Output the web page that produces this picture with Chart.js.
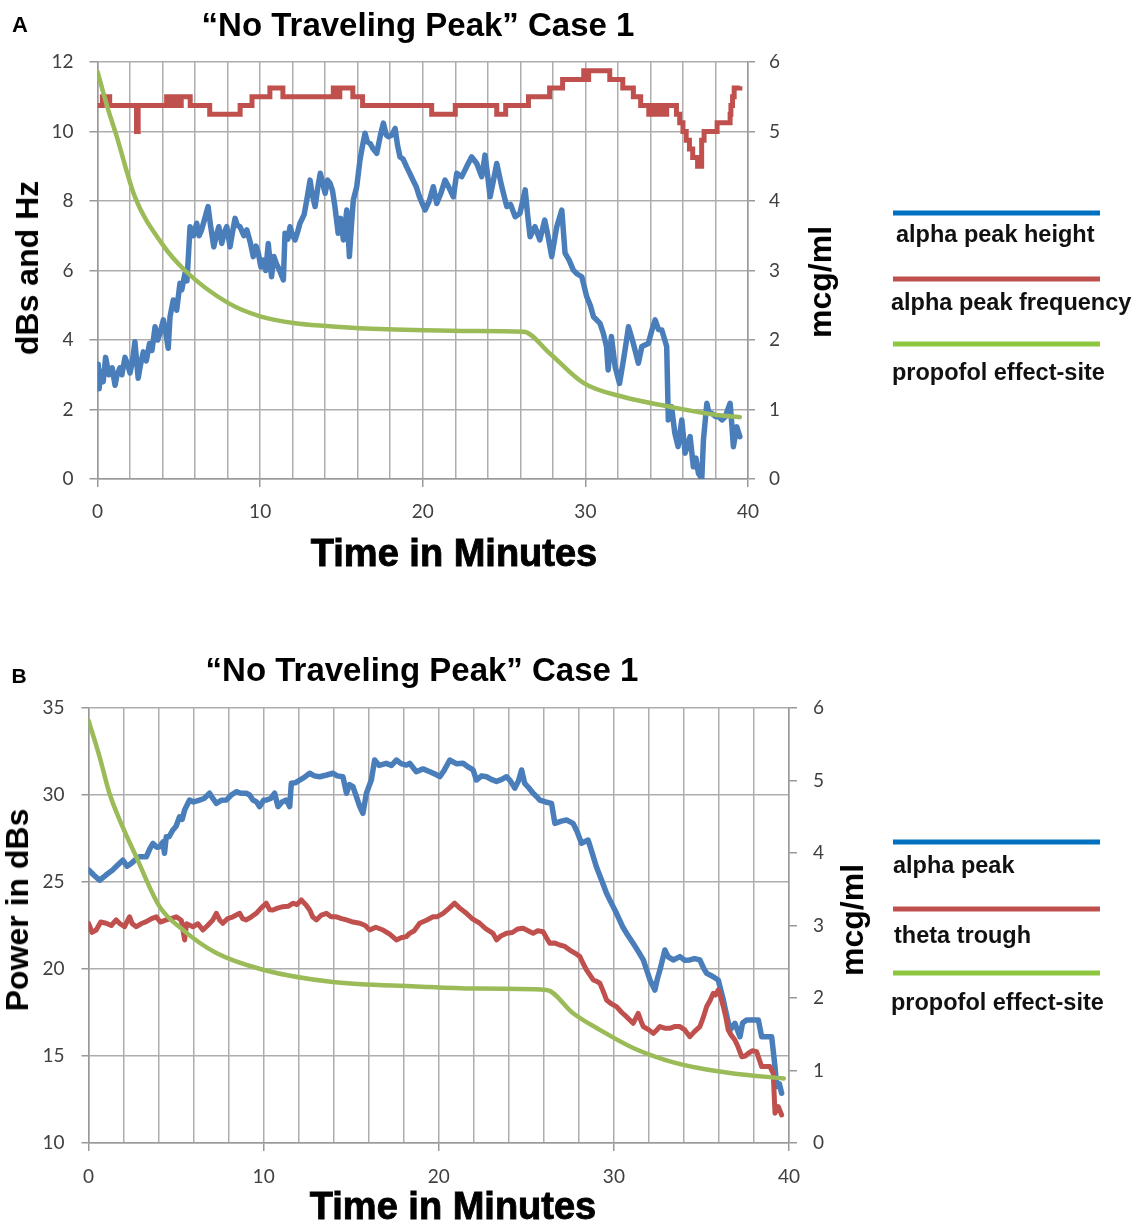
<!DOCTYPE html>
<html><head><meta charset="utf-8">
<script src="https://cdn.jsdelivr.net/npm/chart.js@4.4.1/dist/chart.umd.min.js"></script>
<style>
html,body{margin:0;padding:0;background:#fff;}
#page{position:relative;width:1137px;height:1221px;overflow:hidden;background:#fff;}
canvas{position:absolute;left:0;}
.t{position:absolute;font-family:"Liberation Sans",Arial,sans-serif;font-weight:bold;color:#000;white-space:nowrap;line-height:1;transform:translate(-50%,-50%);}
.rot{transform:translate(-50%,-50%) rotate(-90deg);}
.heavy{-webkit-text-stroke:0.9px #000;}
.leg{position:absolute;font-family:"Liberation Sans",Arial,sans-serif;font-weight:bold;font-size:23.5px;line-height:1;white-space:nowrap;transform:translateY(-50%);color:#111;}
.lline{position:absolute;left:893px;width:207px;height:5px;transform:translateY(-50%);}
</style></head>
<body><div id="page">
<canvas id="cA" width="1137" height="600" style="top:0"></canvas>
<canvas id="cB" width="1137" height="621" style="top:600px"></canvas>

<div class="t" style="left:20px;top:25px;font-size:22px;">A</div>
<div class="t" style="left:418px;top:24px;font-size:33px;">“No Traveling Peak” Case 1</div>
<div class="t rot" style="left:27px;top:268px;font-size:32px;">dBs and Hz</div>
<div class="t rot" style="left:820px;top:282px;font-size:32px;">mcg/ml</div>
<div class="t heavy" style="left:454px;top:553px;font-size:38px;">Time in Minutes</div>
<div class="lline" style="top:213px;background:#0070C0;"></div>
<div class="leg" style="left:896px;top:235px;">alpha peak height</div>
<div class="lline" style="top:279px;background:#C0504D;"></div>
<div class="leg" style="left:891px;top:303px;">alpha peak frequency</div>
<div class="lline" style="top:344px;background:#8DC63F;"></div>
<div class="leg" style="left:892px;top:373px;">propofol effect-site</div>

<div class="t" style="left:19px;top:675px;font-size:21px;">B</div>
<div class="t" style="left:422px;top:669px;font-size:33px;">“No Traveling Peak” Case 1</div>
<div class="t rot" style="left:17px;top:910px;font-size:32px;">Power in dBs</div>
<div class="t rot" style="left:852px;top:920px;font-size:32px;">mcg/ml</div>
<div class="t heavy" style="left:453px;top:1206px;font-size:38px;">Time in Minutes</div>
<div class="lline" style="top:842px;background:#0070C0;"></div>
<div class="leg" style="left:893px;top:866px;">alpha peak</div>
<div class="lline" style="top:909px;background:#C0504D;"></div>
<div class="leg" style="left:894px;top:936px;">theta trough</div>
<div class="lline" style="top:973px;background:#8DC63F;"></div>
<div class="leg" style="left:891px;top:1003px;">propofol effect-site</div>
</div>
<script>
// ---------- tick labels ----------
const X_LABELS = [0, 10, 20, 30, 40];
const A_LEFT_TICKS = [0, 2, 4, 6, 8, 10, 12];
const A_RIGHT_TICKS = [0, 1, 2, 3, 4, 5, 6];
const B_LEFT_TICKS = [10, 15, 20, 25, 30, 35];
const B_RIGHT_TICKS = [0, 1, 2, 3, 4, 5, 6];

// ---------- Panel A: alpha peak height (dB) ----------
const A_HEIGHT_T = [0.0,0.05,0.1,0.2,0.35,0.5,0.7,0.9,1.08,1.2,1.38,1.5,1.69,1.85,2.0,2.15,2.3,2.5,2.65,2.82,3.0,3.2,3.35,3.54,3.7,3.84,4.05,4.2,4.35,4.46,4.66,4.87,5.07,5.18,5.38,5.5,5.6,5.69,5.9,6.1,6.25,6.4,6.6,6.8,6.95,7.15,7.3,7.46,7.64,7.8,7.95,8.15,8.3,8.46,8.6,8.76,9.0,9.18,9.4,9.58,9.75,9.89,10.05,10.2,10.35,10.5,10.6,10.7,10.85,11.0,11.2,11.43,11.53,11.7,11.84,12.0,12.15,12.3,12.45,12.7,12.87,13.07,13.2,13.38,13.55,13.7,13.85,14.0,14.15,14.3,14.45,14.6,14.8,14.95,15.12,15.33,15.49,15.6,15.73,15.94,16.14,16.3,16.45,16.6,16.76,16.95,17.17,17.4,17.58,17.75,17.88,18.1,18.3,18.45,18.6,18.8,19.0,19.2,19.4,19.6,19.8,20.14,20.4,20.65,20.86,21.1,21.37,21.6,21.88,22.09,22.4,22.7,23.01,23.32,23.63,23.83,24.0,24.14,24.35,24.55,24.86,25.17,25.4,25.68,25.98,26.3,26.45,26.6,26.9,27.2,27.5,27.7,27.93,28.24,28.55,28.75,29.0,29.26,29.5,29.78,30.08,30.3,30.5,30.9,31.1,31.3,31.4,31.6,31.83,32.1,32.34,32.5,32.65,32.95,33.26,33.47,33.87,34.1,34.29,34.5,34.7,35.0,35.1,35.3,35.5,35.7,35.93,36.13,36.44,36.64,36.8,36.95,37.16,37.26,37.47,37.6,37.77,38.0,38.18,38.4,38.6,38.9,39.0,39.1,39.31,39.5];
const A_HEIGHT_V = [2.7,3.3,2.6,3.1,2.8,3.5,3.0,3.2,2.7,3.0,3.2,3.0,3.5,3.3,3.05,3.4,3.95,2.9,3.3,3.66,3.4,3.9,3.7,4.38,4.0,4.19,4.58,4.2,3.76,4.67,5.15,4.86,5.63,5.44,5.92,5.7,6.5,7.26,7.0,7.36,7.0,7.17,7.5,7.84,7.3,6.68,7.0,7.26,6.78,7.1,7.26,6.68,7.1,7.5,7.3,7.26,7.0,7.17,6.8,6.4,6.7,6.5,6.1,6.3,6.0,6.78,6.3,5.82,6.4,6.2,6.0,5.73,7.07,6.9,7.26,7.0,6.88,7.1,7.36,7.6,8.03,8.6,8.2,7.84,8.4,8.8,8.5,8.22,8.6,8.51,8.3,7.84,7.07,7.5,6.88,7.74,6.4,7.2,8.03,8.41,9.18,9.6,9.95,9.7,9.66,9.5,9.37,9.9,10.24,9.9,9.85,9.9,10.09,9.6,9.27,9.2,8.99,8.8,8.6,8.41,8.12,7.74,8.0,8.41,7.93,8.2,8.6,8.4,8.12,8.8,8.7,8.99,9.27,9.08,8.7,9.32,8.7,8.12,8.6,9.08,8.41,7.84,7.9,7.55,7.65,8.32,7.6,6.97,7.26,6.88,7.45,7.0,6.4,7.26,7.74,6.5,6.3,6.01,5.9,5.82,5.25,5.0,4.67,4.48,4.2,3.81,3.14,4.1,3.23,2.75,3.42,3.9,4.38,3.9,3.33,3.81,3.9,4.3,4.58,4.3,4.29,3.81,1.7,2.08,1.32,0.93,1.7,0.74,1.22,0.35,0.6,0.16,0.02,1.12,2.18,1.9,1.89,1.8,1.79,1.7,1.79,2.18,1.6,0.93,1.5,1.22];

// ---------- Panel A: alpha peak frequency (Hz), step levels ----------
const A_FREQ_T = [0,0.3,0.75,2.4,2.5,4.25,4.5,4.7,5.0,5.15,5.7,6.9,8.77,9.5,10.6,11.4,14.5,14.8,14.9,15.7,16.3,20.55,22.0,24.55,25.1,26.5,27.8,28.6,29.9,30.1,30.2,31.5,32.3,32.95,33.4,33.9,34.1,34.3,34.6,34.7,35.0,35.6,35.8,36.0,36.2,36.4,36.6,36.9,37.15,37.3,38.1,38.9,38.95,39.05,39.15,39.5];
const A_FREQ_V = [10.75,11.0,10.75,10.0,10.75,11.0,10.75,11.0,10.75,11.0,10.75,10.5,10.75,11.0,11.25,11.0,11.25,11.0,11.25,11.0,10.75,10.5,10.75,10.5,10.75,11.0,11.25,11.5,11.75,11.5,11.75,11.5,11.25,11.0,10.75,10.5,10.75,10.5,10.75,10.5,10.75,10.5,10.25,10.0,9.75,9.5,9.25,9.0,9.75,10.0,10.25,10.5,10.75,11.0,11.25,11.3];

// ---------- Panel A: propofol effect-site (mcg/ml) ----------
const A_PROP_T = [0,0.66,1.13,2.3,3.95,5.38,8.05,10.0,12.15,14.1,16.1,20.1,23.0,26.2,27.8,29.9,32.35,35.2,38.1,39.5];
const A_PROP_V = [5.86,5.31,4.97,4.06,3.39,3.0,2.53,2.34,2.24,2.2,2.17,2.14,2.13,2.12,1.81,1.38,1.18,1.04,0.92,0.89];

// ---------- Panel B: alpha peak power (dB) ----------
const B_ALPHA_T = [0,0.3,0.63,1.0,1.39,1.7,1.96,2.2,2.44,2.7,2.9,3.3,3.5,3.68,3.9,4.06,4.25,4.34,4.44,4.6,4.82,5.0,5.2,5.35,5.49,5.77,6.0,6.34,6.6,6.91,7.1,7.3,7.6,7.87,8.15,8.44,8.7,9.01,9.2,9.39,9.6,9.77,10.0,10.15,10.4,10.63,10.82,11.05,11.3,11.49,11.58,11.8,12.06,12.3,12.63,12.9,13.2,13.6,13.96,14.2,14.53,14.73,14.9,15.1,15.3,15.49,15.67,15.87,16.15,16.34,16.6,17.0,17.3,17.58,17.85,18.15,18.34,18.72,19.1,19.49,19.8,20.06,20.3,20.63,21.0,21.39,21.7,21.96,22.15,22.45,22.73,23.0,23.3,23.6,23.87,24.1,24.34,24.55,24.73,24.91,25.15,25.39,25.6,25.77,26.1,26.44,26.63,27.0,27.3,27.67,27.9,28.15,28.53,28.75,29.0,29.3,29.58,29.85,30.15,30.5,30.72,31.1,31.4,31.68,32.06,32.34,32.5,32.63,32.91,33.1,33.39,33.77,34.05,34.34,34.6,34.91,35.1,35.3,35.6,35.96,36.25,36.45,36.63,36.91,37.2,37.35,37.58,38.25,38.44,39.01,39.2,39.3,39.45,39.58];
const B_ALPHA_V = [25.7,25.4,25.1,25.4,25.7,26.0,26.26,25.9,26.07,26.3,26.45,26.45,26.9,27.22,27.0,27.03,27.3,26.65,27.6,27.6,27.99,28.2,28.75,28.6,29.14,29.71,29.6,29.71,29.8,30.1,29.8,29.52,29.7,29.71,30.0,30.19,30.1,30.1,30.0,29.71,29.6,29.33,29.7,29.71,29.8,30.1,29.33,29.6,29.71,29.33,30.67,30.7,30.86,31.0,31.25,31.1,31.05,31.15,31.25,31.1,31.05,30.1,30.6,30.48,29.9,29.33,28.95,30.1,30.86,32.01,31.7,31.82,31.7,32.01,31.8,31.72,31.82,31.34,31.5,31.34,31.2,31.05,31.4,32.01,31.8,31.82,31.6,31.44,30.86,31.1,31.05,30.9,30.78,30.9,31.05,30.8,30.39,30.8,31.44,30.67,30.4,30.1,29.9,29.71,29.6,29.52,28.37,28.5,28.56,28.37,27.9,27.23,27.41,26.7,25.88,25.1,24.35,23.8,23.2,22.43,22.06,21.48,21.0,20.52,19.37,18.79,19.5,19.94,21.09,20.7,20.52,20.71,20.5,20.52,20.6,20.52,20.1,19.75,19.6,19.37,18.22,17.3,16.49,16.88,16.11,16.9,17.07,17.07,16.11,16.11,14.39,13.24,13.4,12.86];

// ---------- Panel B: theta trough power (dB) ----------
const B_THETA_T = [0,0.2,0.44,0.7,1.01,1.3,1.58,1.8,2.06,2.34,2.5,2.73,3.0,3.3,3.6,3.87,4.1,4.44,4.7,5.01,5.3,5.49,5.6,5.96,6.25,6.53,6.8,7.1,7.3,7.5,7.67,7.95,8.25,8.63,8.8,9.01,9.3,9.58,9.85,10.15,10.35,10.53,10.8,11.1,11.4,11.67,11.9,12.15,12.4,12.63,12.8,13.01,13.3,13.58,13.85,14.15,14.45,14.73,15.1,15.49,15.8,16.06,16.4,16.82,17.2,17.58,17.85,18.15,18.34,18.6,18.91,19.3,19.67,19.9,20.25,20.6,20.91,21.2,21.58,21.9,22.34,22.7,23.1,23.3,23.55,23.87,24.2,24.5,24.82,25.1,25.39,25.65,25.96,26.15,26.34,26.6,26.91,27.2,27.48,27.8,28.06,28.25,28.44,28.6,28.82,29.0,29.2,29.4,29.58,29.85,30.15,30.45,30.72,31.1,31.39,31.55,31.68,32.0,32.25,32.45,32.63,32.9,33.2,33.5,33.77,34.05,34.34,34.6,34.91,35.1,35.3,35.5,35.67,35.8,35.96,36.1,36.25,36.4,36.53,36.7,36.91,37.1,37.3,37.5,37.67,37.9,38.15,38.3,38.44,38.91,39.1,39.2,39.39,39.58];
const B_THETA_V = [22.63,22.1,22.24,22.7,22.63,22.5,22.82,22.6,22.43,23.0,22.6,22.43,22.6,22.72,22.9,23.0,22.7,22.82,22.9,23.0,22.8,21.67,22.6,22.43,22.6,22.24,22.5,22.82,23.2,22.8,22.63,22.9,23.0,23.2,22.9,22.82,23.0,23.2,23.5,23.78,23.4,23.39,23.5,23.58,23.6,23.78,23.7,23.97,23.7,23.39,23.0,22.82,23.1,23.2,23.0,23.0,22.9,22.82,22.7,22.63,22.5,22.24,22.4,22.24,22.0,21.67,21.8,21.86,22.05,22.2,22.63,22.8,23.0,23.0,23.2,23.5,23.78,23.5,23.2,22.9,22.63,22.3,22.05,21.67,21.9,22.05,22.1,22.3,22.34,22.2,22.05,22.2,22.14,21.8,21.48,21.5,21.38,21.3,21.09,20.9,20.71,20.3,19.94,19.7,19.37,19.3,19.18,18.7,18.22,18.0,17.84,17.5,17.26,16.88,17.45,17.0,16.69,16.5,16.3,16.5,16.69,16.6,16.59,16.7,16.69,16.5,16.11,16.4,16.69,17.2,17.84,18.2,18.6,18.5,18.79,18.4,17.84,17.2,16.49,16.2,15.92,15.5,14.96,15.0,15.15,15.3,15.25,14.8,14.39,14.39,14.0,11.71,12.09,11.61];

// ---------- Panel B: propofol effect-site (mcg/ml) ----------
const B_PROP_T = [0,0.63,1.2,1.77,2.72,4.06,5.39,7.3,9.96,13.96,18.72,22.0,26.15,27.67,29.2,31.1,33.0,34.91,36.82,39.7];
const B_PROP_V = [5.83,5.33,4.82,4.46,3.95,3.26,2.94,2.62,2.39,2.22,2.16,2.13,2.11,1.79,1.56,1.31,1.14,1.03,0.96,0.89];

// ---------- styling ----------
const C_BLUE = '#4A7EBB', C_RED = '#C0504D', C_GREEN = '#9BBB59';
const GRID = '#adadad', AXIS = '#999999', TICKTXT = '#404040';
const TICKFONT = {family: 'Lato, "Open Sans", sans-serif', size: 19};

function zip(t, v) { return t.map((x, i) => ({x: x, y: v[i]})); }
function line(label, t, v, color, axis, width, extra) {
  return Object.assign({
    label: label, data: zip(t, v), yAxisID: axis, borderColor: color,
    backgroundColor: color, borderWidth: width, pointRadius: 0, fill: false,
    borderJoinStyle: 'round', borderCapStyle: 'round', tension: 0
  }, extra || {});
}

function build(id, g, datasets) {
  const lt = g.leftTicks, rt = g.rightTicks;
  return new Chart(document.getElementById(id), {
    type: 'line',
    data: {datasets: datasets},
    options: {
      responsive: false, animation: false, devicePixelRatio: 1,
      layout: {padding: {top: g.top, left: 0, right: 0, bottom: 0}},
      plugins: {legend: {display: false}, tooltip: {enabled: false}, title: {display: false}},
      scales: {
        x: {
          type: 'linear', min: X_LABELS[0], max: X_LABELS[X_LABELS.length - 1],
          afterFit: s => { s.height = g.xH; },
          ticks: {stepSize: 2, autoSkip: false, maxRotation: 0, padding: g.xPad, font: TICKFONT, color: TICKTXT,
                  callback: v => X_LABELS.includes(v) ? String(v) : ''},
          grid: {color: GRID, lineWidth: 1.5, tickLength: 8,
                 tickColor: c => (c.tick && X_LABELS.includes(c.tick.value)) ? AXIS : 'rgba(0,0,0,0)'},
          border: {color: AXIS, width: 1.5}
        },
        yL: {
          position: 'left', min: lt[0], max: lt[lt.length - 1],
          afterFit: s => { s.width = g.lW; },
          ticks: {stepSize: lt[1] - lt[0], padding: g.lPad, font: TICKFONT, color: TICKTXT},
          grid: {color: GRID, lineWidth: 1.5, tickLength: g.lTL, tickColor: AXIS},
          border: {color: AXIS, width: 1.5}
        },
        yR: {
          position: 'right', min: rt[0], max: rt[rt.length - 1],
          afterFit: s => { s.width = g.rW; },
          ticks: {stepSize: rt[1] - rt[0], padding: g.rPad, font: TICKFONT, color: TICKTXT},
          grid: {drawOnChartArea: false, color: AXIS, lineWidth: 1.5, tickLength: g.rTL, tickColor: AXIS},
          border: {color: AXIS, width: 1.5}
        }
      }
    }
  });
}

build('cA', {top: 62, xH: 121, lW: 97.5, rW: 389, xPad: 13, lPad: 16, lTL: 8, rPad: 14, rTL: 7,
             leftTicks: A_LEFT_TICKS, rightTicks: A_RIGHT_TICKS}, [
  line('propofol effect-site', A_PROP_T, A_PROP_V, C_GREEN, 'yR', 4.5, {cubicInterpolationMode: 'monotone'}),
  line('alpha peak frequency', A_FREQ_T, A_FREQ_V, C_RED, 'yL', 5, {stepped: true, borderJoinStyle: 'miter', borderCapStyle: 'butt'}),
  line('alpha peak height', A_HEIGHT_T, A_HEIGHT_V, C_BLUE, 'yL', 5.5)
]);

build('cB', {top: 108, xH: 78, lW: 88.5, rW: 348, xPad: 14, lPad: 17, lTL: 7, rPad: 16, rTL: 8,
             leftTicks: B_LEFT_TICKS, rightTicks: B_RIGHT_TICKS}, [
  line('propofol effect-site', B_PROP_T, B_PROP_V, C_GREEN, 'yR', 4.5, {cubicInterpolationMode: 'monotone'}),
  line('theta trough', B_THETA_T, B_THETA_V, C_RED, 'yL', 5),
  line('alpha peak', B_ALPHA_T, B_ALPHA_V, C_BLUE, 'yL', 5.5)
]);
</script>
</body></html>
